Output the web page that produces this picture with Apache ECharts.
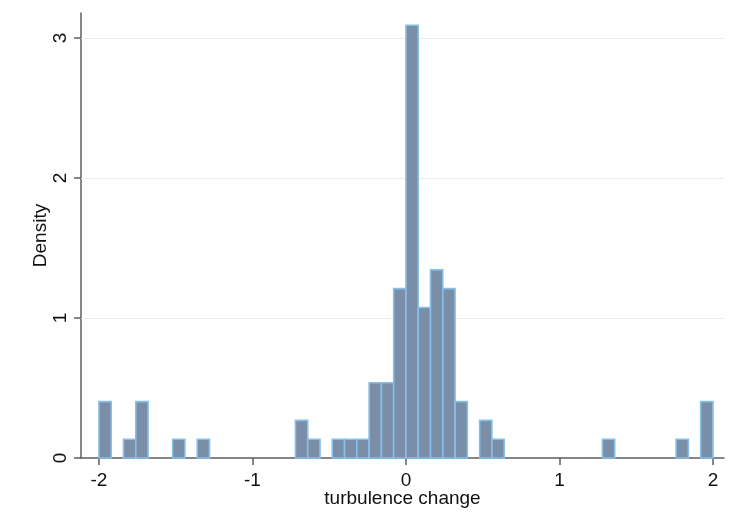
<!DOCTYPE html>
<html>
<head>
<meta charset="utf-8">
<title>turbulence change histogram</title>
<script src="https://cdn.jsdelivr.net/npm/echarts@6/dist/echarts.min.js"></script>
<style>
  html, body { margin: 0; padding: 0; background: #fff; }
  #chart { width: 733px; height: 514px; }
</style>
</head>
<body>
<div id="chart"></div>
<script>
// histogram bins (left edge) that hold data, width 0.08
const binWidth = 0.08
const binStarts = [-2.00, -1.84, -1.76, -1.52, -1.36, -0.72, -0.64, -0.48, -0.40, -0.32,
  -0.24, -0.16, -0.08, 0.00, 0.08, 0.16, 0.24, 0.32, 0.48, 0.56, 1.28, 1.76, 1.92]
const density = [0.403, 0.134, 0.403, 0.134, 0.134, 0.269, 0.134, 0.134, 0.134, 0.134,
  0.538, 0.538, 1.210, 3.091, 1.075, 1.344, 1.210, 0.403, 0.269, 0.134, 0.134, 0.134, 0.403]
const xTicks = [-2, -1, 0, 1, 2]
const yTicks = [0, 1, 2, 3]
const gridLines = [1, 2, 3]

const axisColor = '#5f5f5f'
const textColor = '#111111'
const fontFamily = 'Liberation Sans, Arial, sans-serif'
const barFill = '#7a8ea8'
const barBorder = '#86c0e8'

const chart = echarts.init(document.getElementById('chart'))

chart.setOption({
  animation: false,
  backgroundColor: '#ffffff',
  grid: { left: 81, right: 9, top: 13, bottom: 56, outerBoundsMode: 'none' },
  xAxis: {
    type: 'value',
    min: -2.117,
    max: 2.072,
    name: 'turbulence change',
    nameLocation: 'middle',
    nameGap: 31,
    nameMoveOverlap: false,
    nameTextStyle: { color: textColor, fontSize: 19, fontFamily: fontFamily },
    axisLine: { lineStyle: { color: axisColor, width: 1.5 } },
    axisTick: { customValues: xTicks, length: 7, lineStyle: { color: axisColor, width: 1.5 } },
    axisLabel: {
      customValues: xTicks,
      margin: 13,
      color: textColor,
      fontSize: 19,
      fontFamily: fontFamily
    },
    splitLine: { show: false }
  },
  yAxis: {
    type: 'value',
    min: 0,
    max: 3.179,
    name: 'Density',
    nameLocation: 'middle',
    nameGap: 31,
    nameMoveOverlap: false,
    nameTextStyle: { color: textColor, fontSize: 19, fontFamily: fontFamily },
    axisLine: { show: true, onZero: false, lineStyle: { color: axisColor, width: 1.5 } },
    axisTick: { show: true, customValues: yTicks, length: 7, lineStyle: { color: axisColor, width: 1.5 } },
    axisLabel: {
      customValues: yTicks,
      rotate: 90,
      margin: 11,
      color: textColor,
      fontSize: 19,
      fontFamily: fontFamily
    },
    splitLine: { show: false }
  },
  series: [{
    // light horizontal grid lines, kept behind the bars
    type: 'line',
    data: [],
    z: 1,
    markLine: {
      silent: true,
      z: 1,
      symbol: 'none',
      label: { show: false },
      lineStyle: { color: '#e6eff0', type: 'solid', width: 1.2 },
      data: gridLines.map(v => ({ yAxis: v }))
    }
  }, {
    type: 'custom',
    data: binStarts.map((x, i) => [x, density[i]]),
    renderItem: function (params, api) {
      const x0 = api.value(0)
      const h = api.value(1)
      const topLeft = api.coord([x0, h])
      const bottomRight = api.coord([x0 + binWidth, 0])
      return {
        type: 'rect',
        shape: {
          x: topLeft[0],
          y: topLeft[1],
          width: bottomRight[0] - topLeft[0],
          height: bottomRight[1] - topLeft[1]
        },
        style: { fill: barFill, stroke: barBorder, lineWidth: 1.6 }
      }
    },
    z: 3
  }]
})
</script>
</body>
</html>
